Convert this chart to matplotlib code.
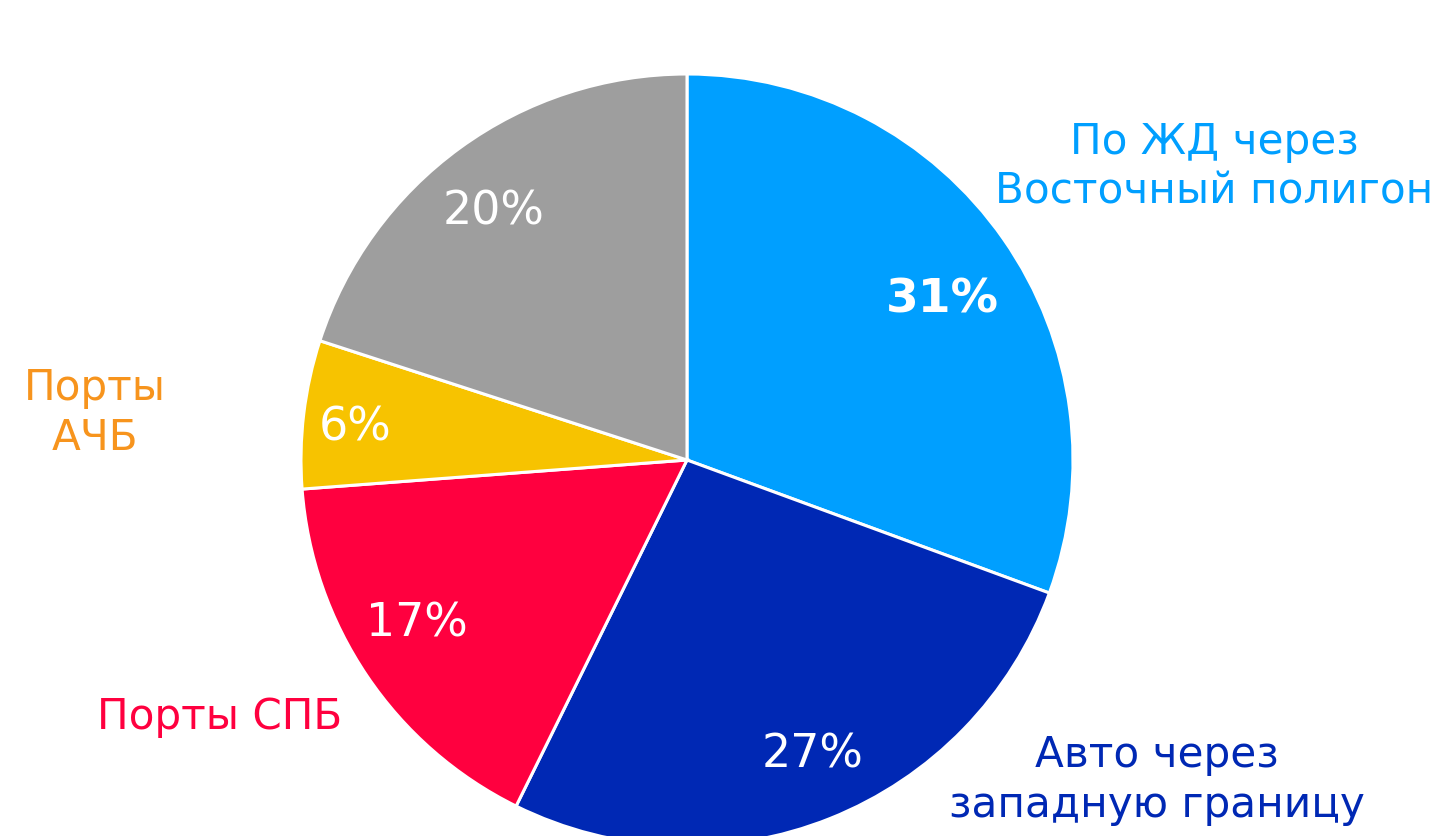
import matplotlib.pyplot as plt

shares = [30.6, 26.7, 16.5, 6.2, 20.0]
pct_labels = ['31%', '27%', '17%', '6%', '20%']
names = ['По ЖД через\nВосточный полигон', 'Авто через\nзападную границу',
         'Порты СПБ', 'Порты\nАЧБ', '']
colors = ['#009FFF', '#0028B4', '#FF003F', '#F7C300', '#9E9E9E']
name_colors = ['#009FFF', '#0028B4', '#FF003F', '#F7941D', '#9E9E9E']

fig = plt.figure(figsize=(14.35, 8.36), dpi=100)
W, H = 1435, 836
cx, cy, R = 687, 460, 386
ax = fig.add_axes([(cx - R) / W, (H - cy - R) / H, 2 * R / W, 2 * R / H])

wedges, _ = ax.pie(shares, colors=colors, startangle=90, counterclock=False,
                   radius=1, wedgeprops=dict(edgecolor='white', linewidth=2.2))
for w in wedges:
    w.set_clip_on(False)
ax.set_xlim(-1, 1)
ax.set_ylim(-1, 1)
ax.set_aspect('equal')
ax.axis('off')

# percent labels inside slices
pct_pos = [(0.661, 0.415), (0.326, -0.764), (-0.70, -0.425), (-0.86, 0.083), (-0.50, 0.642)]
for i, (t, (x, y)) in enumerate(zip(pct_labels, pct_pos)):
    ax.text(x, y, t, color='white', fontsize=34 if i == 0 else 33, ha='center', va='center',
            fontweight='bold' if i == 0 else 'normal')

# category labels outside
name_pos = [(1.366, 0.760), (1.218, -0.829), (-1.21, -0.666), (-1.534, 0.122), (0, 0)]
for t, c, (x, y) in zip(names, name_colors, name_pos):
    if t:
        ax.text(x, y, t, color=c, fontsize=30.3, ha='center', va='center',
                linespacing=1.25, clip_on=False)

fig.savefig('out.png', dpi=100)
